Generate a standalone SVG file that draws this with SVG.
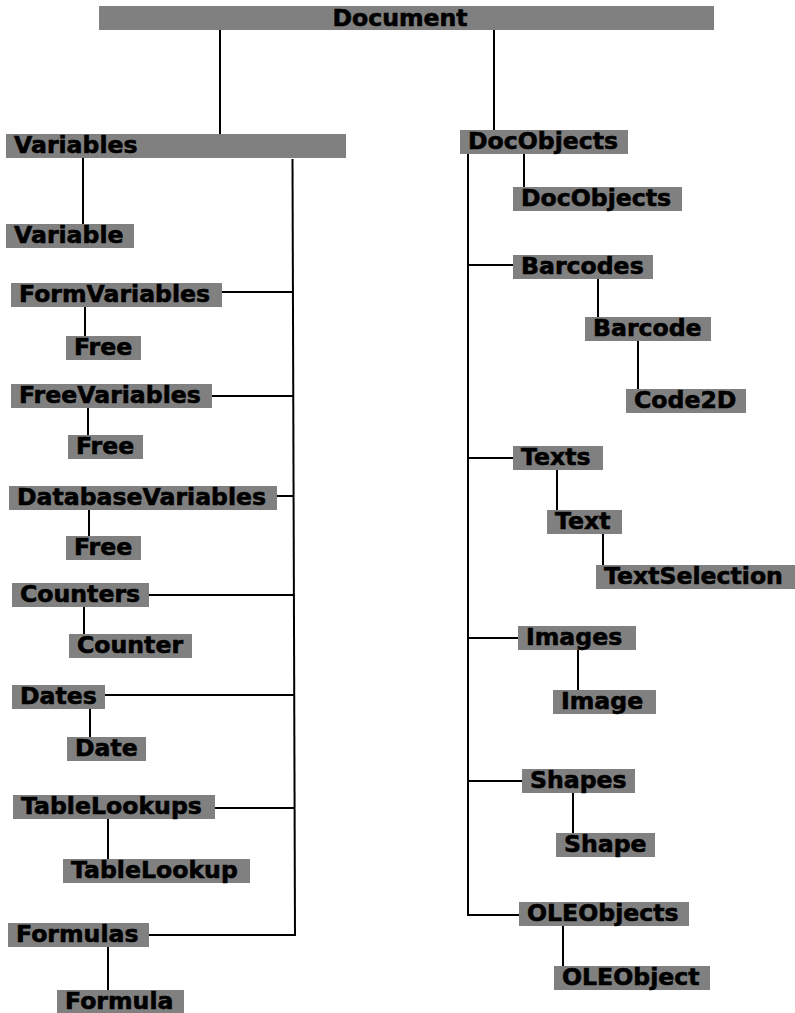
<svg xmlns="http://www.w3.org/2000/svg" width="795" height="1013" viewBox="0 0 795 1013">
<style>
.n rect{fill:#808080}
.n text{font-family:"DejaVu Sans",Verdana,sans-serif;font-weight:bold;font-size:23.6px;fill:#000;stroke:#000;stroke-width:0.6px}
#connectors line{stroke:#000;stroke-width:2;fill:none}
</style>
<rect width="795" height="1013" fill="#fff"/>
<g id="connectors">
<line x1="220" y1="30" x2="220" y2="134"/>
<line x1="494" y1="30" x2="494" y2="130"/>
<line x1="83" y1="158" x2="83" y2="224"/>
<line x1="292.5" y1="159" x2="295" y2="936"/>
<line x1="222" y1="292" x2="293" y2="292"/>
<line x1="85" y1="307" x2="85" y2="336"/>
<line x1="212" y1="396" x2="293" y2="396"/>
<line x1="88" y1="408" x2="88" y2="435"/>
<line x1="277" y1="496" x2="293.5" y2="496"/>
<line x1="89" y1="510" x2="89" y2="536"/>
<line x1="149" y1="595" x2="294" y2="595"/>
<line x1="84" y1="607" x2="84" y2="634"/>
<line x1="105" y1="695" x2="294" y2="695"/>
<line x1="90" y1="709" x2="90" y2="737"/>
<line x1="215" y1="808" x2="294.5" y2="808"/>
<line x1="108" y1="819" x2="108" y2="859"/>
<line x1="149" y1="935" x2="296" y2="935"/>
<line x1="108" y1="947" x2="108" y2="990"/>
<line x1="468" y1="154" x2="468" y2="916"/>
<line x1="524" y1="154" x2="524" y2="187"/>
<line x1="468" y1="265" x2="513" y2="265"/>
<line x1="598" y1="279" x2="598" y2="317"/>
<line x1="638" y1="341" x2="638" y2="389"/>
<line x1="468" y1="458" x2="513" y2="458"/>
<line x1="557" y1="470" x2="557" y2="510"/>
<line x1="603" y1="534" x2="603" y2="565"/>
<line x1="468" y1="638" x2="518" y2="638"/>
<line x1="578" y1="650" x2="578" y2="690"/>
<line x1="468" y1="781" x2="522" y2="781"/>
<line x1="573" y1="793" x2="573" y2="833"/>
<line x1="468" y1="915" x2="519" y2="915"/>
<line x1="563" y1="926" x2="563" y2="966"/>
</g>
<g id="document" class="n"><rect x="99" y="6" width="615" height="24"/><text x="400" y="26" text-anchor="middle">Document</text></g>
<g id="variables" class="n"><rect x="6" y="134" width="340" height="24"/><text x="14" y="152.5">Variables</text></g>
<g id="variable" class="n"><rect x="6" y="224" width="128" height="24"/><text x="14" y="242.5">Variable</text></g>
<g id="formvariables" class="n"><rect x="11" y="283" width="211" height="24"/><text x="19" y="301.5">FormVariables</text></g>
<g id="free1" class="n"><rect x="66" y="336" width="75" height="24"/><text x="74" y="354.5">Free</text></g>
<g id="freevariables" class="n"><rect x="11" y="384" width="201" height="24"/><text x="19" y="402.5">FreeVariables</text></g>
<g id="free2" class="n"><rect x="68" y="435" width="75" height="24"/><text x="76" y="453.5">Free</text></g>
<g id="databasevariables" class="n"><rect x="9" y="486" width="268" height="24"/><text x="17" y="504.5">DatabaseVariables</text></g>
<g id="free3" class="n"><rect x="66" y="536" width="75" height="24"/><text x="74" y="554.5">Free</text></g>
<g id="counters" class="n"><rect x="12" y="583" width="137" height="24"/><text x="20" y="601.5">Counters</text></g>
<g id="counter" class="n"><rect x="69" y="634" width="123" height="24"/><text x="77" y="652.5">Counter</text></g>
<g id="dates" class="n"><rect x="12" y="685" width="93" height="24"/><text x="20" y="703.5">Dates</text></g>
<g id="date" class="n"><rect x="67" y="737" width="79" height="24"/><text x="75" y="755.5">Date</text></g>
<g id="tablelookups" class="n"><rect x="13" y="795" width="202" height="24"/><text x="21" y="813.5">TableLookups</text></g>
<g id="tablelookup" class="n"><rect x="63" y="859" width="187" height="24"/><text x="71" y="877.5">TableLookup</text></g>
<g id="formulas" class="n"><rect x="8" y="923" width="141" height="24"/><text x="16" y="941.5">Formulas</text></g>
<g id="formula" class="n"><rect x="57" y="990" width="127" height="24"/><text x="65" y="1008.5">Formula</text></g>
<g id="docobjects" class="n"><rect x="460" y="130" width="168" height="24"/><text x="468" y="148.5">DocObjects</text></g>
<g id="docobjects2" class="n"><rect x="513" y="187" width="169" height="24"/><text x="521" y="205.5">DocObjects</text></g>
<g id="barcodes" class="n"><rect x="513" y="255" width="140" height="24"/><text x="521" y="273.5">Barcodes</text></g>
<g id="barcode" class="n"><rect x="585" y="317" width="126" height="24"/><text x="593" y="335.5">Barcode</text></g>
<g id="code2d" class="n"><rect x="626" y="389" width="120" height="24"/><text x="634" y="407.5">Code2D</text></g>
<g id="texts" class="n"><rect x="513" y="446" width="90" height="24"/><text x="521" y="464.5">Texts</text></g>
<g id="text" class="n"><rect x="547" y="510" width="75" height="24"/><text x="555" y="528.5">Text</text></g>
<g id="textselection" class="n"><rect x="596" y="565" width="199" height="24"/><text x="604" y="583.5">TextSelection</text></g>
<g id="images" class="n"><rect x="518" y="626" width="118" height="24"/><text x="526" y="644.5">Images</text></g>
<g id="image" class="n"><rect x="553" y="690" width="103" height="24"/><text x="561" y="708.5">Image</text></g>
<g id="shapes" class="n"><rect x="522" y="769" width="113" height="24"/><text x="530" y="787.5">Shapes</text></g>
<g id="shape" class="n"><rect x="556" y="833" width="99" height="24"/><text x="564" y="851.5">Shape</text></g>
<g id="oleobjects" class="n"><rect x="519" y="902" width="170" height="24"/><text x="527" y="920.5">OLEObjects</text></g>
<g id="oleobject" class="n"><rect x="554" y="966" width="156" height="24"/><text x="562" y="984.5">OLEObject</text></g>
</svg>
